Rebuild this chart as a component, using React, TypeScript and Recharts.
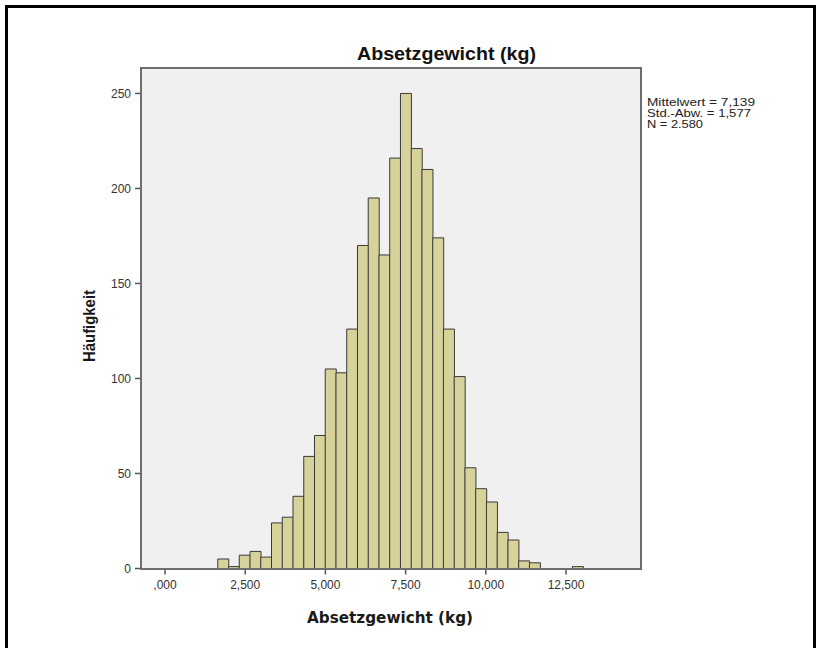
import React from 'react';
import { BarChart, Bar, XAxis, YAxis, CartesianGrid, Label } from 'recharts';

// Histogram of weaning weight (kg)
const BIN_START = 1.645; // lower edge of first bin (kg)
const BIN_WIDTH = 0.335; // bin width (kg)
const counts = [
  5, 1, 7, 9, 6, 24, 27, 38, 59, 70, 105, 103, 126, 170, 195, 165,
  216, 250, 221, 210, 174, 126, 101, 53, 42, 35, 19, 15, 4, 3,
  0, 0, 0, 1,
];
const xTicks = [0, 2.5, 5, 7.5, 10, 12.5];
const yTicks = [0, 50, 100, 150, 200, 250];
const titleText = 'Absetzgewicht (kg)';
const xLabelText = 'Absetzgewicht (kg)';
const yLabelText = 'Häufigkeit';
const statsLines = ['Mittelwert = 7,139', 'Std.-Abw. = 1,577', 'N = 2.580'];
const statsWidths = [108, 104, 56];

const data = counts.map((c, i) => ({
  mid: BIN_START + (i + 0.5) * BIN_WIDTH,
  count: c,
}));

const W = 823;
const H = 648;
const ARIAL = '"Liberation Sans", Arial, sans-serif';

const fmtX = (v: number) => (v === 0 ? ',000' : v.toFixed(3).replace('.', ','));

export default function App() {
  return (
    <div style={{ position: 'absolute', left: 0, top: 0, width: W, height: H, background: '#fff', overflow: 'hidden' }}>
      <BarChart
        width={W}
        height={H}
        data={data}
        margin={{ top: 68, right: 182, bottom: 19.5, left: 81 }}
        barCategoryGap={0}
        barGap={0}
      >
        <CartesianGrid fill="#f0f0f0" stroke="none" horizontal={false} vertical={false} />
        <XAxis
          dataKey="mid"
          type="number"
          domain={[-0.748, 14.838]}
          allowDataOverflow
          ticks={xTicks}
          tickFormatter={fmtX}
          height={60}
          axisLine={false}
          tickSize={6}
          tickMargin={6}
          tickLine={{ stroke: '#555', strokeWidth: 1.5 }}
          tick={{ fill: '#333', fontSize: 12, fontFamily: ARIAL }}
        >
          <Label
            content={(p: any) => {
              const vb = p.viewBox || { x: 141, y: 568.5, width: 500 };
              return (
                <text
                  x={vb.x + vb.width / 2 - 1}
                  y={vb.y + 54.5}
                  textAnchor="middle"
                  fontFamily='"DejaVu Sans", Verdana, sans-serif'
                  fontWeight="bold"
                  fontSize={16}
                  fill="#1a1a1a"
                  textLength={166}
                  lengthAdjust="spacingAndGlyphs"
                >
                  {xLabelText}
                </text>
              );
            }}
          />
        </XAxis>
        <YAxis
          type="number"
          domain={[0, 263.4]}
          allowDataOverflow
          ticks={yTicks}
          width={60}
          axisLine={false}
          tickSize={6}
          tickMargin={4}
          tickLine={{ stroke: '#555', strokeWidth: 1.5 }}
          tick={{ fill: '#333', fontSize: 12, fontFamily: ARIAL }}
        >
          <Label
            content={(p: any) => {
              const vb = p.viewBox || { x: 81, y: 68, height: 500.5 };
              const cx = vb.x + 14;
              const cy = vb.y + vb.height / 2 + 7.75;
              return (
                <text
                  transform={`rotate(-90 ${cx} ${cy})`}
                  x={cx}
                  y={cy}
                  textAnchor="middle"
                  fontFamily={ARIAL}
                  fontWeight="bold"
                  fontSize={17}
                  fill="#1a1a1a"
                  textLength={72}
                  lengthAdjust="spacingAndGlyphs"
                >
                  {yLabelText}
                </text>
              );
            }}
          />
        </YAxis>
        <Bar
          dataKey="count"
          fill="#d6d29a"
          stroke="#3a3a3a"
          strokeWidth={1}
          isAnimationActive={false}
        />
      </BarChart>

      {/* plot frame */}
      <div
        style={{
          position: 'absolute',
          left: 140,
          top: 67,
          width: 502,
          height: 502.5,
          boxSizing: 'border-box',
          border: '2px solid #6e6e6e',
          pointerEvents: 'none',
        }}
      />
      {/* outer frame */}
      <div
        style={{
          position: 'absolute',
          left: 5,
          top: 5,
          width: 811,
          height: 700,
          boxSizing: 'border-box',
          border: '3px solid #000',
          pointerEvents: 'none',
        }}
      />
      <svg width={W} height={H} style={{ position: 'absolute', left: 0, top: 0, pointerEvents: 'none' }}>
        <text
          x={446.5}
          y={59.5}
          textAnchor="middle"
          fontFamily={ARIAL}
          fontWeight="bold"
          fontSize={19}
          fill="#111"
          textLength={179}
          lengthAdjust="spacingAndGlyphs"
        >
          {titleText}
        </text>
        {statsLines.map((s, i) => (
          <text
            key={s}
            x={647}
            y={105.5 + i * 11}
            fontFamily={ARIAL}
            fontSize={10.5}
            fill="#222"
            textLength={statsWidths[i]}
            lengthAdjust="spacingAndGlyphs"
          >
            {s}
          </text>
        ))}
      </svg>
    </div>
  );
}
